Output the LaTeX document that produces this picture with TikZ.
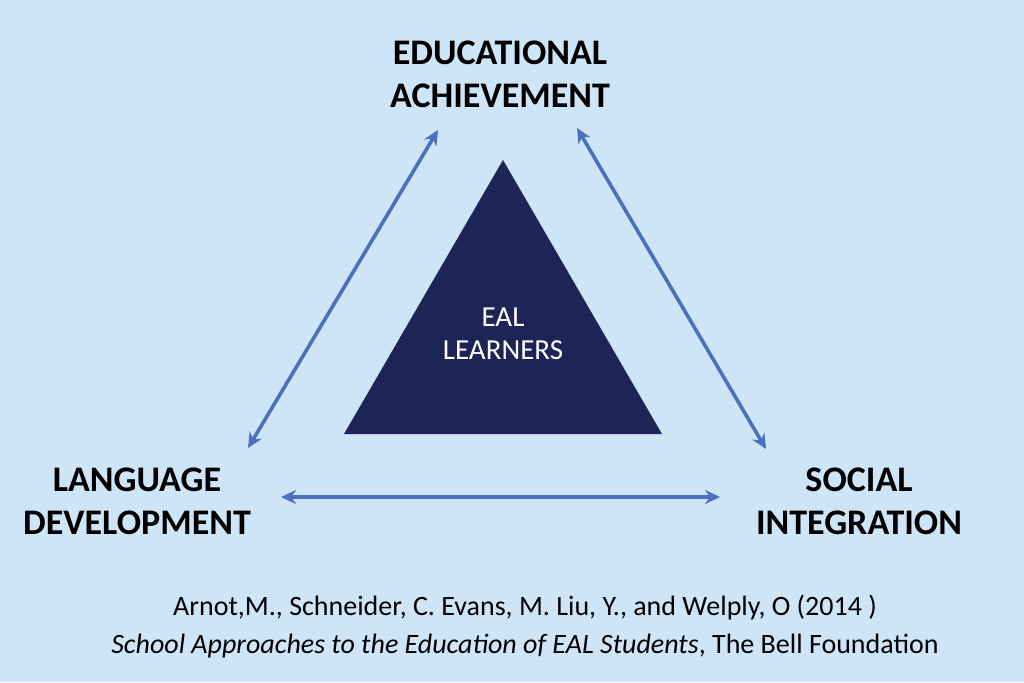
\documentclass[tikz,border=0pt]{standalone}
\usepackage{fontspec}
\setmainfont{Carlito}
\usetikzlibrary{arrows.meta}
\definecolor{bgblue}{HTML}{CEE5F8}
\definecolor{arrowblue}{HTML}{4D6FBF}
\definecolor{navy}{HTML}{1D2456}
\tikzset{
  dblarrow/.style={draw=arrowblue, line width=3.6pt, {Stealth[length=15pt,width=14pt,inset=5pt]}-{Stealth[length=15pt,width=14pt,inset=5pt]}},
  heading/.style={font=\fontsize{36}{43}\selectfont\bfseries, align=center, text=black, inner sep=0pt},
  citation/.style={font=\fontsize{28}{38}\selectfont, align=center, text=black, inner sep=0pt},
  inner/.style={font=\fontsize{29}{33}\selectfont, align=center, text=white, inner sep=0pt}
}
\begin{document}
\begin{tikzpicture}[x=1pt,y=-1pt]
\fill[bgblue] (0,0) rectangle (1024,682);
\useasboundingbox (0,0) rectangle (1024,682);
% central triangle
\fill[navy] (503,160) -- (662,434) -- (344,434) -- cycle;
\node[inner] (eal) at (503,334) {EAL\\LEARNERS};
% corner labels
\node[heading] (edu) at (500,74) {EDUCATIONAL\\ACHIEVEMENT};
\node[heading] (lang) at (137,501) {LANGUAGE\\DEVELOPMENT};
\node[heading] (soc) at (859,501) {SOCIAL\\INTEGRATION};
% arrow endpoints
\coordinate (a1) at (248,448);
\coordinate (a2) at (438,130);
\coordinate (b1) at (577,128);
\coordinate (b2) at (766,449);
\coordinate (c1) at (281,497);
\coordinate (c2) at (720,497);
\draw[dblarrow] (a1) -- (a2);
\draw[dblarrow] (b1) -- (b2);
\draw[dblarrow] (c1) -- (c2);
% citation
\node[citation] (cite) at (525,627) {Arnot,M., Schneider, C. Evans, M. Liu, Y., and Welply, O (2014 )\\\textit{School Approaches to the Education of EAL Students}, The Bell Foundation};
\end{tikzpicture}
\end{document}
